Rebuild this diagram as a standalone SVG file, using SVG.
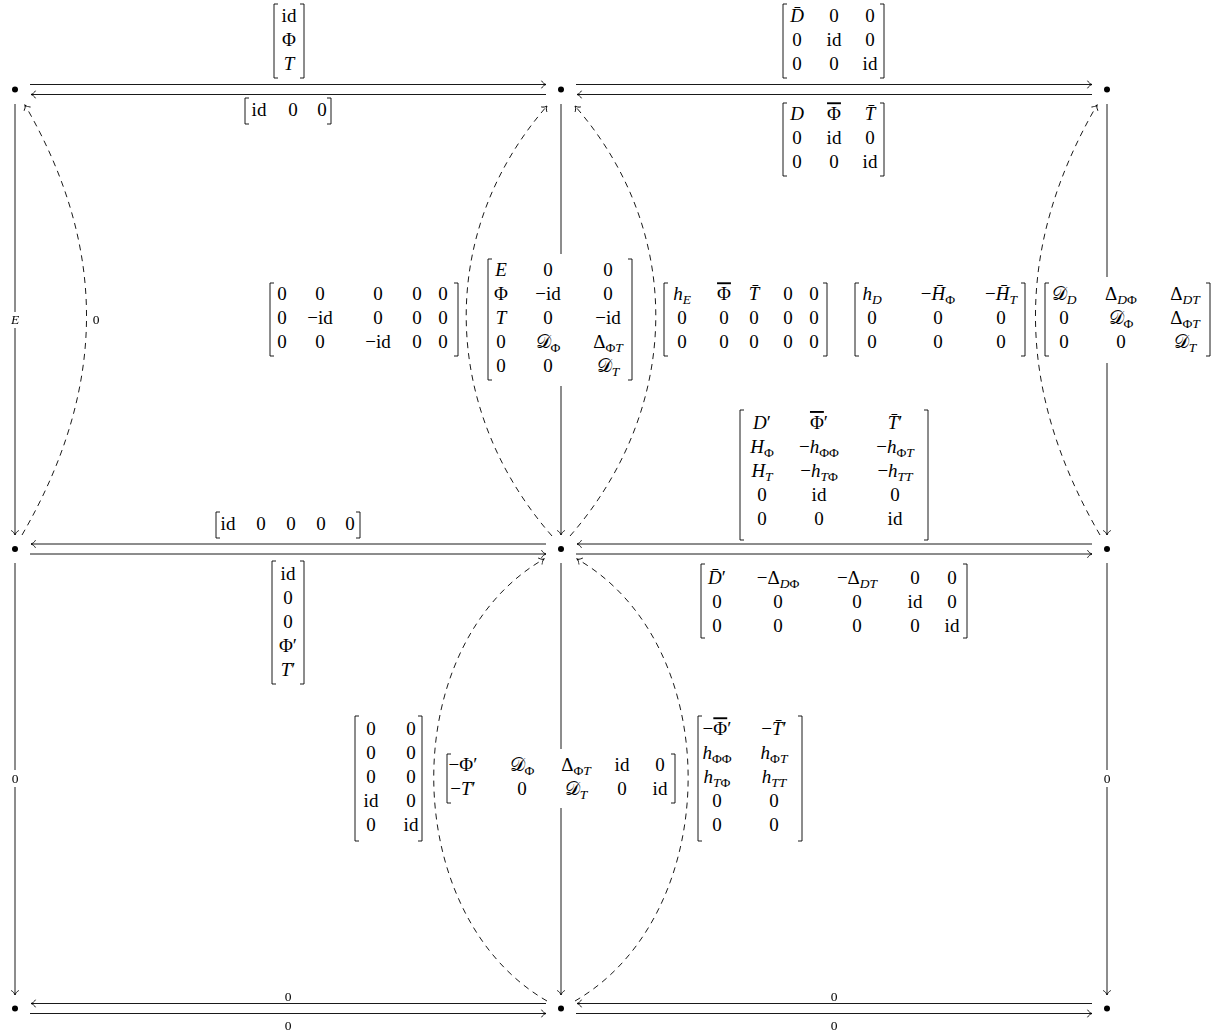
<svg xmlns="http://www.w3.org/2000/svg" width="1226" height="1036" viewBox="0 0 1226 1036">
<style>
.c{fill:none;stroke:#000;stroke-width:0.9}
.d{fill:none;stroke:#000;stroke-width:0.9;stroke-dasharray:6 5}
.br{fill:none;stroke:#000;stroke-width:0.9}
.dot{fill:#000}
.bg{fill:#fff}
text{font-family:"Liberation Serif","DejaVu Serif",serif;font-size:19px;fill:#000;text-anchor:middle}
.i{font-style:italic}
.sb{font-size:13.5px}
.lb{font-size:13.5px}
.ov{text-decoration:overline;text-decoration-thickness:0.8px}
.cal{font-family:"DejaVu Sans","Noto Sans",sans-serif;font-style:normal}
</style>
<defs>
<marker id="ah" viewBox="-6 -5 7 10" markerWidth="7" markerHeight="10" refX="0" refY="0" orient="auto" markerUnits="userSpaceOnUse">
<path d="M-4.5,-3.8 C-3.4,-1.6 -1.3,-0.4 0,0 C-1.3,0.4 -3.4,1.6 -4.5,3.8" fill="none" stroke="#000" stroke-width="0.9" stroke-dasharray="none"/>
</marker>
<filter id="gs" x="-0.2" y="-0.2" width="1.4" height="1.4"><feColorMatrix type="saturate" values="0"/></filter>
</defs>
<rect width="1226" height="1036" fill="#fff"/>

<g id="connectors">
<path class="c" d="M30,84.5H546" marker-end="url(#ah)"/>
<path class="c" d="M546,94.5H31" marker-end="url(#ah)"/>
<path class="c" d="M576,84.5H1092" marker-end="url(#ah)"/>
<path class="c" d="M1092,94.5H577" marker-end="url(#ah)"/>
<path class="c" d="M546,544H31" marker-end="url(#ah)"/>
<path class="c" d="M30,554H546" marker-end="url(#ah)"/>
<path class="c" d="M1092,544H577" marker-end="url(#ah)"/>
<path class="c" d="M576,554H1092" marker-end="url(#ah)"/>
<path class="c" d="M546,1003.5H31" marker-end="url(#ah)"/>
<path class="c" d="M30,1013.5H546" marker-end="url(#ah)"/>
<path class="c" d="M1092,1003.5H577" marker-end="url(#ah)"/>
<path class="c" d="M576,1013.5H1092" marker-end="url(#ah)"/>
<path class="c" d="M15,104V535" marker-end="url(#ah)"/>
<path class="c" d="M561,104V535" marker-end="url(#ah)"/>
<path class="c" d="M1107,104V535" marker-end="url(#ah)"/>
<path class="c" d="M15,563V995" marker-end="url(#ah)"/>
<path class="c" d="M561,563V995" marker-end="url(#ah)"/>
<path class="c" d="M1107,563V995" marker-end="url(#ah)"/>
<path class="d" d="M22,535 C106,390 109,250 25,105" marker-end="url(#ah)"/>
<path class="d" d="M552,536 C441,409 436,233 547,106" marker-end="url(#ah)"/>
<path class="d" d="M570,536 C681,409 686,233 575,106" marker-end="url(#ah)"/>
<path class="d" d="M1100,535 C1016,390 1013,250 1097,105" marker-end="url(#ah)"/>
<path class="d" d="M547,1001 C398,915 395,645 544,559" marker-end="url(#ah)"/>
<path class="d" d="M575,1001 C724,915 727,645 577,559" marker-end="url(#ah)"/>
</g>

<g id="node-11"><circle class="dot" cx="15" cy="89.5" r="3"/></g>
<g id="node-12"><circle class="dot" cx="561" cy="89.5" r="3"/></g>
<g id="node-13"><circle class="dot" cx="1107" cy="89.5" r="3"/></g>
<g id="node-21"><circle class="dot" cx="15" cy="549" r="3"/></g>
<g id="node-22"><circle class="dot" cx="561" cy="549" r="3"/></g>
<g id="node-23"><circle class="dot" cx="1107" cy="549" r="3"/></g>
<g id="node-31"><circle class="dot" cx="15" cy="1008.5" r="3"/></g>
<g id="node-32"><circle class="dot" cx="561" cy="1008.5" r="3"/></g>
<g id="node-33"><circle class="dot" cx="1107" cy="1008.5" r="3"/></g>

<g id="small-labels" filter="url(#gs)">
<g id="label-E">
<rect class="bg" x="8" y="312" width="14" height="16"/>
<text class="lb i" x="15" y="324.3">E</text>
</g>
<g id="label-0-left-arc"><text class="lb" x="96" y="324.3">0</text></g>
<g id="label-0-left-low">
<rect class="bg" x="9" y="770" width="12" height="17"/>
<text class="lb" x="15" y="783.3">0</text>
</g>
<g id="label-0-right-low">
<rect class="bg" x="1101" y="770" width="12" height="17"/>
<text class="lb" x="1107" y="783.3">0</text>
</g>
<g id="label-bottom-zeros">
<text class="lb" x="288" y="1000.5">0</text>
<text class="lb" x="288" y="1029.5">0</text>
<text class="lb" x="834" y="1000.5">0</text>
<text class="lb" x="834" y="1029.5">0</text>
</g>
</g>

<g id="m1">
<path class="br" d="M278,4H274V78H278M300,4H304V78H300"/>
<text x="289" y="21.8">id</text>
<text x="289" y="45.8">Φ</text>
<text class="i" x="289" y="69.8">T</text>
</g>

<g id="m2">
<path class="br" d="M249,98H245V124H249M327,98H331V124H327"/>
<text x="259" y="115.8">id</text>
<text x="293" y="115.8">0</text>
<text x="322" y="115.8">0</text>
</g>

<g id="m3">
<path class="br" d="M787,4H783V78H787M880,4H884V78H880"/>
<text class="i" x="797" y="21.8">D&#x304;</text>
<text x="834" y="21.8">0</text>
<text x="870" y="21.8">0</text>
<text x="797" y="45.8">0</text>
<text x="834" y="45.8">id</text>
<text x="870" y="45.8">0</text>
<text x="797" y="69.8">0</text>
<text x="834" y="69.8">0</text>
<text x="870" y="69.8">id</text>
</g>

<g id="m4">
<path class="br" d="M787,103H783V176H787M880,103H884V176H880"/>
<text class="i" x="797" y="120.3">D</text>
<text x="834" y="120.3"><tspan class="ov">Φ</tspan></text>
<text class="i" x="870" y="120.3">T&#x304;</text>
<text x="797" y="144.3">0</text>
<text x="834" y="144.3">id</text>
<text x="870" y="144.3">0</text>
<text x="797" y="168.3">0</text>
<text x="834" y="168.3">0</text>
<text x="870" y="168.3">id</text>
</g>

<g id="m5">
<path class="br" d="M274,283H270V356H274M454,283H458V356H454"/>
<text x="282" y="300.3">0</text><text x="320" y="300.3">0</text><text x="378" y="300.3">0</text><text x="417" y="300.3">0</text><text x="443" y="300.3">0</text>
<text x="282" y="324.3">0</text><text x="320" y="324.3">−id</text><text x="378" y="324.3">0</text><text x="417" y="324.3">0</text><text x="443" y="324.3">0</text>
<text x="282" y="348.3">0</text><text x="320" y="348.3">0</text><text x="378" y="348.3">−id</text><text x="417" y="348.3">0</text><text x="443" y="348.3">0</text>
</g>

<g id="m6">
<rect class="bg" x="482" y="254" width="156" height="132"/>
<path class="br" d="M492,259H488V380H492M628,259H632V380H628"/>
<text class="i" x="501" y="276.3">E</text><text x="548" y="276.3">0</text><text x="608" y="276.3">0</text>
<text x="501" y="300.3">Φ</text><text x="548" y="300.3">−id</text><text x="608" y="300.3">0</text>
<text class="i" x="501" y="324.3">T</text><text x="548" y="324.3">0</text><text x="608" y="324.3">−id</text>
<text x="501" y="348.3">0</text><text x="548" y="348.3"><tspan class="cal">&#x1D49F;</tspan><tspan class="sb" dy="4">Φ</tspan></text><text x="608" y="348.3">Δ<tspan class="sb" dy="4">Φ<tspan class="i">T</tspan></tspan></text>
<text x="501" y="372.3">0</text><text x="548" y="372.3">0</text><text x="608" y="372.3"><tspan class="cal">&#x1D49F;</tspan><tspan class="sb i" dy="4">T</tspan></text>
</g>

<g id="m7">
<path class="br" d="M668,283H664V356H668M823,283H827V356H823"/>
<text x="682" y="300.3"><tspan class="i">h</tspan><tspan class="sb i" dy="4">E</tspan></text><text x="724" y="300.3"><tspan class="ov">Φ</tspan></text><text class="i" x="754" y="300.3">T&#x304;</text><text x="788" y="300.3">0</text><text x="814" y="300.3">0</text>
<text x="682" y="324.3">0</text><text x="724" y="324.3">0</text><text x="754" y="324.3">0</text><text x="788" y="324.3">0</text><text x="814" y="324.3">0</text>
<text x="682" y="348.3">0</text><text x="724" y="348.3">0</text><text x="754" y="348.3">0</text><text x="788" y="348.3">0</text><text x="814" y="348.3">0</text>
</g>

<g id="m8">
<path class="br" d="M859,283H855V356H859M1021,283H1025V356H1021"/>
<text x="872" y="300.3"><tspan class="i">h</tspan><tspan class="sb i" dy="4">D</tspan></text><text x="938" y="300.3">−<tspan class="i">H&#x304;</tspan><tspan class="sb" dy="4">Φ</tspan></text><text x="1001" y="300.3">−<tspan class="i">H&#x304;</tspan><tspan class="sb i" dy="4">T</tspan></text>
<text x="872" y="324.3">0</text><text x="938" y="324.3">0</text><text x="1001" y="324.3">0</text>
<text x="872" y="348.3">0</text><text x="938" y="348.3">0</text><text x="1001" y="348.3">0</text>
</g>

<g id="m9">
<rect class="bg" x="1040" y="277" width="176" height="86"/>
<path class="br" d="M1049,283H1045V356H1049M1206,283H1210V356H1206"/>
<text x="1064" y="300.3"><tspan class="cal">&#x1D49F;</tspan><tspan class="sb i" dy="4">D</tspan></text><text x="1121" y="300.3">Δ<tspan class="sb" dy="4"><tspan class="i">D</tspan>Φ</tspan></text><text x="1185" y="300.3">Δ<tspan class="sb i" dy="4">DT</tspan></text>
<text x="1064" y="324.3">0</text><text x="1121" y="324.3"><tspan class="cal">&#x1D49F;</tspan><tspan class="sb" dy="4">Φ</tspan></text><text x="1185" y="324.3">Δ<tspan class="sb" dy="4">Φ<tspan class="i">T</tspan></tspan></text>
<text x="1064" y="348.3">0</text><text x="1121" y="348.3">0</text><text x="1185" y="348.3"><tspan class="cal">&#x1D49F;</tspan><tspan class="sb i" dy="4">T</tspan></text>
</g>

<g id="m10">
<path class="br" d="M744,410H740V540H744M924,410H928V540H924"/>
<text x="762" y="429"><tspan class="i">D</tspan>′</text><text x="819" y="429"><tspan class="ov">Φ</tspan>′</text><text x="895" y="429"><tspan class="i">T&#x304;</tspan>′</text>
<text x="762" y="453"><tspan class="i">H</tspan><tspan class="sb" dy="4">Φ</tspan></text><text x="819" y="453">−<tspan class="i">h</tspan><tspan class="sb" dy="4">ΦΦ</tspan></text><text x="895" y="453">−<tspan class="i">h</tspan><tspan class="sb" dy="4">Φ<tspan class="i">T</tspan></tspan></text>
<text x="762" y="477"><tspan class="i">H</tspan><tspan class="sb i" dy="4">T</tspan></text><text x="819" y="477">−<tspan class="i">h</tspan><tspan class="sb" dy="4"><tspan class="i">T</tspan>Φ</tspan></text><text x="895" y="477">−<tspan class="i">h</tspan><tspan class="sb i" dy="4">TT</tspan></text>
<text x="762" y="501">0</text><text x="819" y="501">id</text><text x="895" y="501">0</text>
<text x="762" y="525">0</text><text x="819" y="525">0</text><text x="895" y="525">id</text>
</g>

<g id="m11">
<path class="br" d="M705,564H701V638H705M963,564H967V638H963"/>
<text x="717" y="583.5"><tspan class="i">D&#x304;</tspan>′</text><text x="778" y="583.5">−Δ<tspan class="sb" dy="4"><tspan class="i">D</tspan>Φ</tspan></text><text x="857" y="583.5">−Δ<tspan class="sb i" dy="4">DT</tspan></text><text x="915" y="583.5">0</text><text x="952" y="583.5">0</text>
<text x="717" y="607.5">0</text><text x="778" y="607.5">0</text><text x="857" y="607.5">0</text><text x="915" y="607.5">id</text><text x="952" y="607.5">0</text>
<text x="717" y="631.5">0</text><text x="778" y="631.5">0</text><text x="857" y="631.5">0</text><text x="915" y="631.5">0</text><text x="952" y="631.5">id</text>
</g>

<g id="m12">
<path class="br" d="M276,561H272V684H276M300,561H304V684H300"/>
<text x="288" y="580">id</text>
<text x="288" y="604">0</text>
<text x="288" y="628">0</text>
<text x="288" y="652">Φ′</text>
<text x="288" y="676"><tspan class="i">T</tspan>′</text>
</g>

<g id="m13">
<path class="br" d="M220,512H216V538H220M356,512H360V538H356"/>
<text x="228" y="530">id</text><text x="261" y="530">0</text><text x="291" y="530">0</text><text x="321" y="530">0</text><text x="350" y="530">0</text>
</g>

<g id="m14">
<path class="br" d="M359,716H355V841H359M418,716H422V841H418"/>
<text x="371" y="735.3">0</text><text x="411" y="735.3">0</text>
<text x="371" y="759.3">0</text><text x="411" y="759.3">0</text>
<text x="371" y="783.3">0</text><text x="411" y="783.3">0</text>
<text x="371" y="807.3">id</text><text x="411" y="807.3">0</text>
<text x="371" y="831.3">0</text><text x="411" y="831.3">id</text>
</g>

<g id="m15">
<rect class="bg" x="441" y="749" width="240" height="59"/>
<path class="br" d="M451,754H447V803H451M671,754H675V803H671"/>
<text x="463" y="771.3">−Φ′</text><text x="522" y="771.3"><tspan class="cal">&#x1D49F;</tspan><tspan class="sb" dy="4">Φ</tspan></text><text x="576" y="771.3">Δ<tspan class="sb" dy="4">Φ<tspan class="i">T</tspan></tspan></text><text x="622" y="771.3">id</text><text x="660" y="771.3">0</text>
<text x="463" y="795.3">−<tspan class="i">T</tspan>′</text><text x="522" y="795.3">0</text><text x="576" y="795.3"><tspan class="cal">&#x1D49F;</tspan><tspan class="sb i" dy="4">T</tspan></text><text x="622" y="795.3">0</text><text x="660" y="795.3">id</text>
</g>

<g id="m16">
<path class="br" d="M702,716H698V841H702M798,716H802V841H798"/>
<text x="717" y="735.3">−<tspan class="ov">Φ</tspan>′</text><text x="774" y="735.3">−<tspan class="i">T&#x304;</tspan>′</text>
<text x="717" y="759.3"><tspan class="i">h</tspan><tspan class="sb" dy="4">ΦΦ</tspan></text><text x="774" y="759.3"><tspan class="i">h</tspan><tspan class="sb" dy="4">Φ<tspan class="i">T</tspan></tspan></text>
<text x="717" y="783.3"><tspan class="i">h</tspan><tspan class="sb" dy="4"><tspan class="i">T</tspan>Φ</tspan></text><text x="774" y="783.3"><tspan class="i">h</tspan><tspan class="sb i" dy="4">TT</tspan></text>
<text x="717" y="807.3">0</text><text x="774" y="807.3">0</text>
<text x="717" y="831.3">0</text><text x="774" y="831.3">0</text>
</g>
</svg>
